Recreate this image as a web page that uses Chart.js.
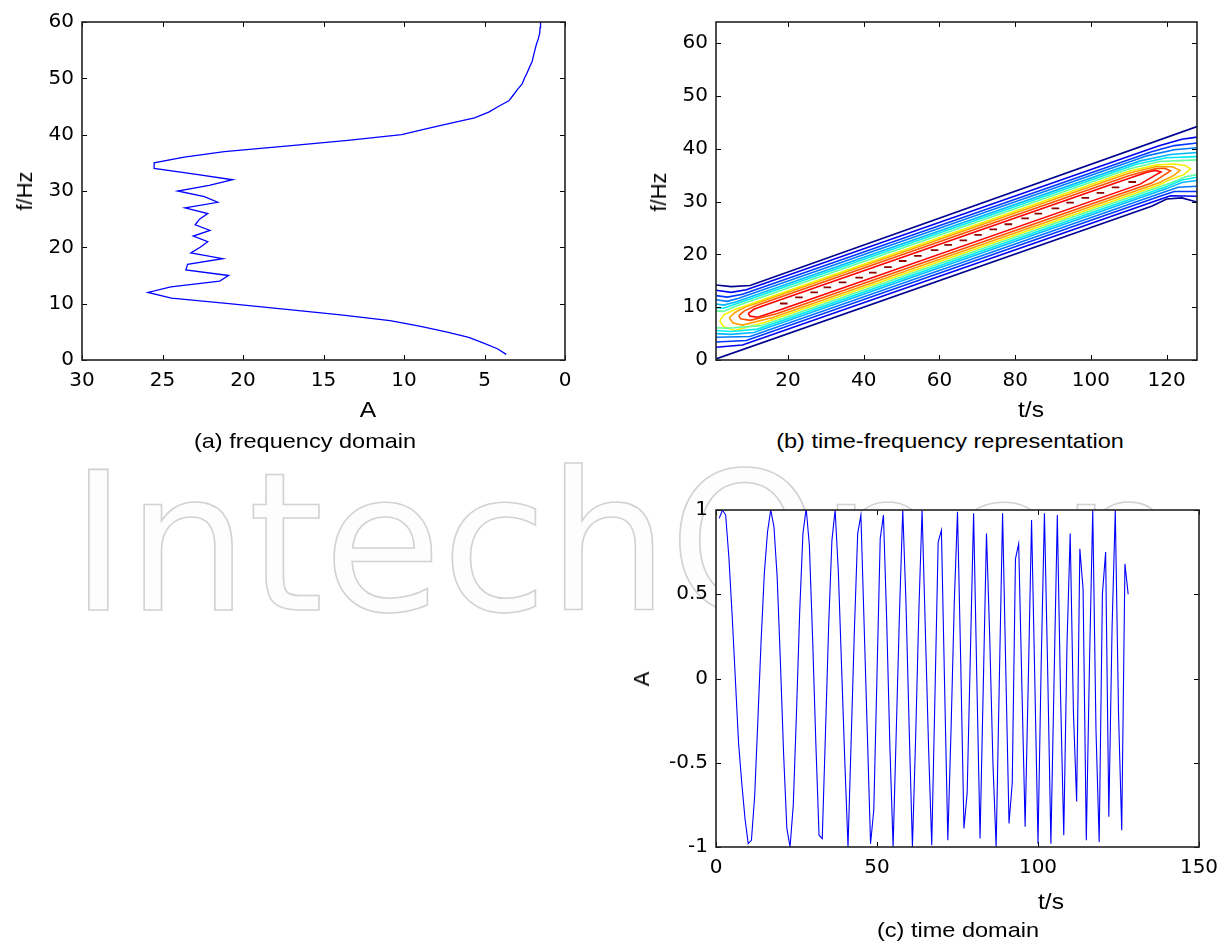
<!DOCTYPE html>
<html>
<head>
<meta charset="utf-8">
<script src="https://cdn.jsdelivr.net/npm/chart.js@4.4.1/dist/chart.umd.min.js"></script>
<style>
  body { margin: 0; background: #fff; }
  #page { position: relative; width: 1228px; height: 943px; overflow: hidden; font-family: 'Liberation Sans', Arial, sans-serif; }
  #wm { position: absolute; left: 70px; top: 448px; font-family: 'DejaVu Sans', sans-serif; font-size: 192px; line-height: 192px;
        color: #fdfdfd; -webkit-text-stroke: 1.6px #d2d2d2; white-space: nowrap; }
  canvas { position: absolute; }
  .lbl { position: absolute; transform: translate(-50%, -50%) scaleX(1.12); font-size: 21px; white-space: nowrap; color: #000; }
  .ax { font-size: 22px; }
  .rot { transform: translate(-50%, -50%) rotate(-90deg); }
</style>
</head>
<body>
<div id="page">
  <div id="wm">IntechOpen</div>
  <canvas id="chartA" width="600" height="400" style="left:0;top:0"></canvas>
  <canvas id="chartB" width="608" height="400" style="left:620px;top:0"></canvas>
  <canvas id="chartC" width="608" height="420" style="left:620px;top:470px"></canvas>

  <div class="lbl ax rot" style="left:25px;top:191px">f/Hz</div>
  <div class="lbl ax" style="left:368px;top:410px">A</div>
  <div class="lbl" style="left:305px;top:441px">(a) frequency domain</div>

  <div class="lbl ax rot" style="left:659px;top:192px">f/Hz</div>
  <div class="lbl ax" style="left:1031px;top:410px">t/s</div>
  <div class="lbl" style="left:950px;top:441px">(b) time-frequency representation</div>

  <div class="lbl ax rot" style="left:642px;top:679px">A</div>
  <div class="lbl ax" style="left:1051px;top:902px">t/s</div>
  <div class="lbl" style="left:958px;top:930px">(c) time domain</div>
</div>

<script>
// (a) frequency domain - amplitude of each 1 Hz bin, f = 1..60
const fdAmp = [
  3.65, 4.2, 5.05, 5.98, 7.38, 9.04, 10.87, 13.93, 17.3, 20.87,
  24.45, 25.9, 24.48, 21.45, 20.89, 23.55, 23.44, 21.26, 23.24, 22.66,
  22.19, 23.09, 22.05, 22.97, 22.7, 22.19, 23.6, 21.57, 22.4, 24.06,
  22.1, 20.64, 23.0, 25.52, 25.52, 23.65, 21.16, 17.17, 13.49, 10.14,
  8.71, 7.15, 5.62, 4.74, 4.14, 3.49, 3.22, 2.96, 2.66, 2.52,
  2.35, 2.2, 2.04, 1.96, 1.87, 1.78, 1.66, 1.57, 1.55, 1.52
];
const fdFreq = fdAmp.map((_, i) => i + 1);
const fdAmpTicks = [30, 25, 20, 15, 10, 5, 0];
const fdFreqTicks = [0, 10, 20, 30, 40, 50, 60];

// (b) time-frequency contours, [t, f] vertices
const tfTimeTicks = [20, 40, 60, 80, 100, 120];
const tfFreqTicks = [0, 10, 20, 30, 40, 50, 60];
// open levels, outermost first: upper side of the band
const tfUpper = [
  [[1,14.2],[5,13.9],[10,14.1],[128,44.2]],
  [[1,13.2],[5,12.8],[9,13.3],[118,40.55],[124,41.8],[128,42.2]],
  [[1,12.2],[4,11.9],[8,12.45],[116,39.45],[122,40.6],[128,41.1]],
  [[1,11.4],[4,11.1],[7,11.7],[115,38.7],[122,39.8],[128,40.2]],
  [[1,10.6],[3,10.4],[6,10.95],[113,37.7],[121,38.9],[128,39.3]],
  [[1,9.9],[3,9.8],[6,10.55],[112,37.05],[120,38.3],[128,38.5]],
  [[1,9.3],[3,9.2],[6,10.15],[110,36.15],[118,37.6],[128,37.9]]
];
// open levels: lower side of the band
const tfLower = [
  [[1,0.2],[116,29.1],[120,30.5],[124,30.7],[128,29.9]],
  [[1,2.4],[8,2.85],[117,30.1],[121,31.1],[128,31.0]],
  [[1,3.4],[9,3.7],[118,30.95],[122,31.9],[128,31.9]],
  [[1,4.3],[10,4.45],[119,31.7],[123,32.7],[128,32.9]],
  [[1,5.0],[5,4.85],[11,5.2],[120,32.45],[124,33.6],[128,34.0]],
  [[1,5.6],[5,5.4],[12,5.85],[120,32.85],[124,34.1],[128,34.6]],
  [[1,6.1],[4,6.0],[13,6.5],[121,33.5],[125,34.7],[128,35.1]]
];
// closed levels near the ridge
const tfLoops = [
  [[2,7.4],[3,8.5],[6,9.55],[110,35.75],[117,36.9],[122,37.1],[125,36.8],[126.3,36.2],[124.5,35.1],[121,34.2],[118,33.15],[14,7.15],[6,5.6],[3,6.3],[2,7.4]],
  [[4.5,8.0],[6,9.0],[9,10.1],[110,35.35],[117,36.6],[121.5,36.6],[123.5,35.9],[122,35.0],[118,33.55],[16,8.05],[8,6.6],[5.5,7.0],[4.5,8.0]],
  [[7,8.4],[8.5,9.3],[12,10.4],[110,34.9],[117,36.2],[119.5,36.3],[121,35.8],[119.5,35.1],[116,33.5],[17,8.75],[10,7.5],[7.5,7.8],[7,8.4]],
  [[9.5,8.8],[11,9.6],[15,10.65],[108,33.9],[115,35.6],[117,35.9],[118.5,35.6],[117,35.0],[113,33.3],[18,9.5],[12,8.1],[10,8.3],[9.5,8.8]]
];
// small peak contours along the ridge
const ridgeT = [18.9, 22.9, 26.9, 30.4, 34.4, 38.8, 42.4, 46.4, 50.3, 54.3, 58.7, 62.3,
                66.3, 70.2, 74.2, 78.2, 82.6, 86.1, 90.6, 94.5, 98.5, 102.5, 106.5, 110.9];
const ridgeF = [10.7, 11.85, 12.8, 13.75, 14.7, 15.6, 16.55, 17.6, 18.75, 19.7, 20.8, 21.8,
                22.65, 23.7, 24.75, 25.7, 26.8, 27.7, 28.7, 29.8, 30.7, 31.65, 32.7, 33.7];

// (c) time domain - one sample per second, t = 1..128
const tdSignal = [
  0.95, 1.00, 0.97, 0.72, 0.38, 0.00, -0.38, -0.62, -0.83, -0.98, -0.96, -0.70, -0.25, 0.22, 0.62, 0.87,
  1.00, 0.90, 0.60, 0.10, -0.45, -0.89, -1.00, -0.75, -0.20, 0.40, 0.86, 1.01, 0.79, 0.24, -0.38, -0.93,
  -0.95, -0.32, 0.32, 0.82, 1.00, 0.63, 0.07, -0.49, -1.00, -0.35, 0.30, 0.86, 0.97, 0.32, -0.33, -0.98,
  -0.78, 0.02, 0.83, 0.97, 0.35, -0.40, -1.00, -0.30, 0.40, 1.00, 0.45, -0.30, -1.00, -0.35, 0.40, 1.00,
  0.30, -0.40, -0.99, -0.10, 0.81, 0.88, -0.05, -0.96, -0.30, 0.45, 0.99, 0.10, -0.89, -0.68, 0.15, 0.98,
  0.00, -0.95, -0.05, 0.86, 0.25, -0.50, -1.00, 0.00, 0.98, 0.05, -0.86, -0.62, 0.71, 0.80, -0.05, -0.88,
  0.00, 0.94, 0.00, -0.98, 0.10, 0.98, 0.05, -0.98, 0.00, 0.97, -0.10, -0.93, 0.20, 0.86, -0.20, -0.73,
  0.77, 0.53, -0.96, 0.10, 1.00, -0.30, -0.97, 0.50, 0.75, -0.82, 0.30, 1.00, -0.20, -0.90, 0.68, 0.50
];
const tdTime = tdSignal.map((_, i) => i + 1);
const tdTimeTicks = [0, 50, 100, 150];
const tdAmpTicks = [-1, -0.5, 0, 0.5, 1];

// styles
const openColors = ['#000090', '#0000f0', '#0038ff', '#0078ff', '#00b8ff', '#00eef0', '#60ffa0'];
const loopColors = ['#f4f000', '#ffa000', '#ff5000', '#ff0000'];
const TICK_FONT = "'DejaVu Sans', sans-serif";

// white axes box with inward ticks on all four sides, like the original figure
const matlabBox = {
  id: 'matlabBox',
  beforeDraw(chart) {
    const { ctx, chartArea: a } = chart;
    ctx.save();
    ctx.fillStyle = '#fff';
    ctx.fillRect(a.left, a.top, a.right - a.left, a.bottom - a.top);
    ctx.restore();
  },
  afterDraw(chart) {
    const { ctx, chartArea: a, scales } = chart;
    ctx.save();
    ctx.strokeStyle = '#000';
    ctx.lineWidth = 1;
    ctx.beginPath();
    scales.x.ticks.forEach(t => {
      const px = Math.round(scales.x.getPixelForValue(t.value)) + 0.5;
      ctx.moveTo(px, a.bottom); ctx.lineTo(px, a.bottom - 5);
      ctx.moveTo(px, a.top); ctx.lineTo(px, a.top + 5);
    });
    scales.y.ticks.forEach(t => {
      const py = Math.round(scales.y.getPixelForValue(t.value)) + 0.5;
      ctx.moveTo(a.left, py); ctx.lineTo(a.left + 5, py);
      ctx.moveTo(a.right, py); ctx.lineTo(a.right - 5, py);
    });
    ctx.stroke();
    ctx.strokeStyle = '#222';
    ctx.lineWidth = 1.6;
    ctx.strokeRect(a.left, a.top, a.right - a.left, a.bottom - a.top);
    ctx.restore();
  }
};

function makeScale(min, max, tickValues, dir, size, reverse) {
  return {
    type: 'linear', min: min, max: max, reverse: !!reverse,
    position: dir === 'x' ? 'bottom' : 'left',
    grid: { display: false, drawTicks: false },
    border: { display: false },
    afterBuildTicks: s => { s.ticks = tickValues.map(v => ({ value: v })); },
    afterFit: s => { if (dir === 'x') s.height = size; else s.width = size; },
    ticks: {
      color: '#000', font: { family: TICK_FONT, size: 20 },
      padding: dir === 'x' ? 9 : 8, autoSkip: false, maxRotation: 0,
      callback: v => String(v)
    }
  };
}

function baseOptions(padding, xScale, yScale) {
  return {
    responsive: false, animation: false, events: [],
    layout: { padding: padding },
    plugins: { legend: { display: false }, tooltip: { enabled: false } },
    scales: { x: xScale, y: yScale }
  };
}

function pathSet(path, color, width) {
  return {
    data: path.map(p => ({ x: p[0], y: p[1] })),
    showLine: true, borderColor: color, borderWidth: width, pointRadius: 0, spanGaps: false
  };
}

// (a)
new Chart(document.getElementById('chartA'), {
  type: 'scatter',
  data: { datasets: [{
    data: fdAmp.map((a, i) => ({ x: a, y: fdFreq[i] })),
    showLine: true, borderColor: '#0000ff', borderWidth: 1.3, pointRadius: 0
  }] },
  options: baseOptions({ left: 0, top: 22, right: 35, bottom: 0 },
    makeScale(0, 30, fdAmpTicks, 'x', 40, true),
    makeScale(0, 60, fdFreqTicks, 'y', 82)),
  plugins: [matlabBox]
});

// (b)
const tfSets = [];
tfUpper.forEach((p, k) => tfSets.push(pathSet(p, openColors[k], 1.6)));
tfLower.forEach((p, k) => tfSets.push(pathSet(p, openColors[k], 1.6)));
tfLoops.forEach((p, k) => tfSets.push(pathSet(p, loopColors[k], 1.6)));
const dashPts = [];
ridgeT.forEach((t, i) => {
  dashPts.push([t - 1, ridgeF[i]], [t + 1, ridgeF[i]], [t, null]);
});
tfSets.push(pathSet(dashPts, '#8c0000', 1.8));

new Chart(document.getElementById('chartB'), {
  type: 'scatter',
  data: { datasets: tfSets },
  options: baseOptions({ left: 0, top: 22, right: 31, bottom: 0 },
    makeScale(1, 128, tfTimeTicks, 'x', 40),
    makeScale(0, 64, tfFreqTicks, 'y', 96)),
  plugins: [matlabBox]
});

// (c)
new Chart(document.getElementById('chartC'), {
  type: 'scatter',
  data: { datasets: [{
    data: tdSignal.map((v, i) => ({ x: tdTime[i], y: v })),
    showLine: true, borderColor: '#0000ff', borderWidth: 1.1, pointRadius: 0
  }] },
  options: baseOptions({ left: 0, top: 40, right: 29, bottom: 0 },
    makeScale(0, 150, tdTimeTicks, 'x', 43),
    makeScale(-1, 1, tdAmpTicks, 'y', 96)),
  plugins: [matlabBox]
});
</script>
</body>
</html>
